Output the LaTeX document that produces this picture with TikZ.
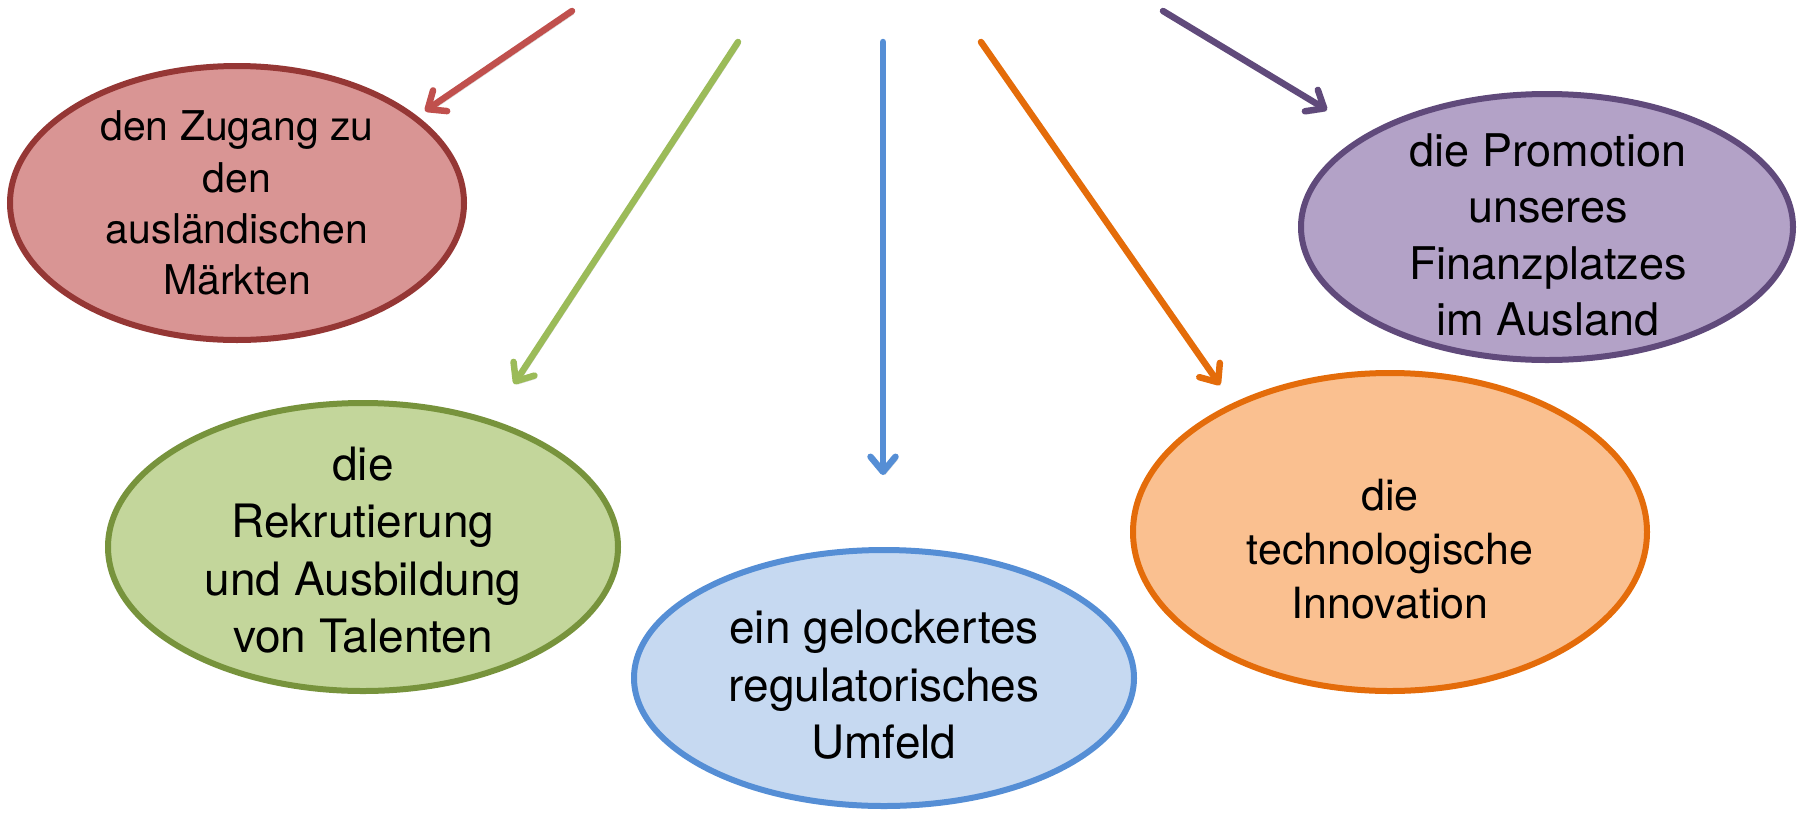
\documentclass[tikz,border=0pt]{standalone}
\usepackage{fontspec}
\setmainfont{TeX Gyre Heros}
\usetikzlibrary{shapes.geometric,arrows.meta}
\definecolor{redfill}{HTML}{D99594}\definecolor{redline}{HTML}{953735}\definecolor{redarrow}{HTML}{C0504D}
\definecolor{greenfill}{HTML}{C3D69B}\definecolor{greenline}{HTML}{77933C}\definecolor{greenarrow}{HTML}{9BBB59}
\definecolor{bluefill}{HTML}{C6D9F1}\definecolor{blueline}{HTML}{558ED5}\definecolor{bluearrow}{HTML}{558ED5}
\definecolor{orangefill}{HTML}{FAC090}\definecolor{orangeline}{HTML}{E46C0A}\definecolor{orangearrow}{HTML}{E46C0A}
\definecolor{purplefill}{HTML}{B3A2C7}\definecolor{purpleline}{HTML}{604A7B}\definecolor{purplearrow}{HTML}{604A7B}
\tikzset{
  bubble/.style={ellipse, line width=6pt, inner sep=0pt},
  bubbletext/.style={align=center, text=black, inner sep=0pt},
  pointer/.style={line width=6.5pt, line cap=round,
    -{Straight Barb[length=15pt,width=25pt,round]},
    preaction={draw=black, draw opacity=0.18, transform canvas={shift={(2pt,-3pt)}}}},
}
\newcommand{\fs}[1]{\fontsize{#1}{1.25\dimexpr#1pt\relax}\selectfont}
\begin{document}
\begin{tikzpicture}[x=1pt,y=-1pt]
\useasboundingbox (0,0) rectangle (1800,812);
% ellipses
\node[bubble, draw=redline, fill=redfill, minimum width=454pt, minimum height=274pt] (red) at (237,203) {};
\node[bubble, draw=greenline, fill=greenfill, minimum width=510pt, minimum height=288pt] (green) at (363,547) {};
\node[bubble, draw=blueline, fill=bluefill, minimum width=500pt, minimum height=256pt] (blue) at (884,678) {};
\node[bubble, draw=orangeline, fill=orangefill, minimum width=514pt, minimum height=318pt] (orange) at (1390,532) {};
\node[bubble, draw=purpleline, fill=purplefill, minimum width=492pt, minimum height=266pt] (purple) at (1547,227) {};
% texts
\node[bubbletext, font=\fs{41}] (redtxt) at (237,203) {den Zugang zu\\den\\ausländischen\\Märkten};
\node[bubbletext, font=\fs{46}] (greentxt) at (363,550) {die\\Rekrutierung\\und Ausbildung\\von Talenten};
\node[bubbletext, font=\fs{46}] (bluetxt) at (884,685) {ein gelockertes\\regulatorisches\\Umfeld};
\node[bubbletext, font=\fs{43}] (orangetxt) at (1390,549) {die\\technologische\\Innovation};
\node[bubbletext, font=\fs{45}] (purpletxt) at (1548,235) {die Promotion\\unseres\\Finanzplatzes\\im Ausland};
% arrow ends
\coordinate (rs) at (572,11);  \coordinate (re) at (425,111);
\coordinate (gs) at (738,42);  \coordinate (ge) at (514,384);
\coordinate (bs) at (883,42);  \coordinate (be) at (883,475);
\coordinate (os) at (981,42);  \coordinate (oe) at (1220,385);
\coordinate (ps) at (1163,11); \coordinate (pe) at (1327,110);
\draw[pointer, draw=redarrow] (rs) -- (re);
\draw[pointer, draw=greenarrow] (gs) -- (ge);
\draw[pointer, draw=bluearrow] (bs) -- (be);
\draw[pointer, draw=orangearrow] (os) -- (oe);
\draw[pointer, draw=purplearrow] (ps) -- (pe);
\end{tikzpicture}
\end{document}
